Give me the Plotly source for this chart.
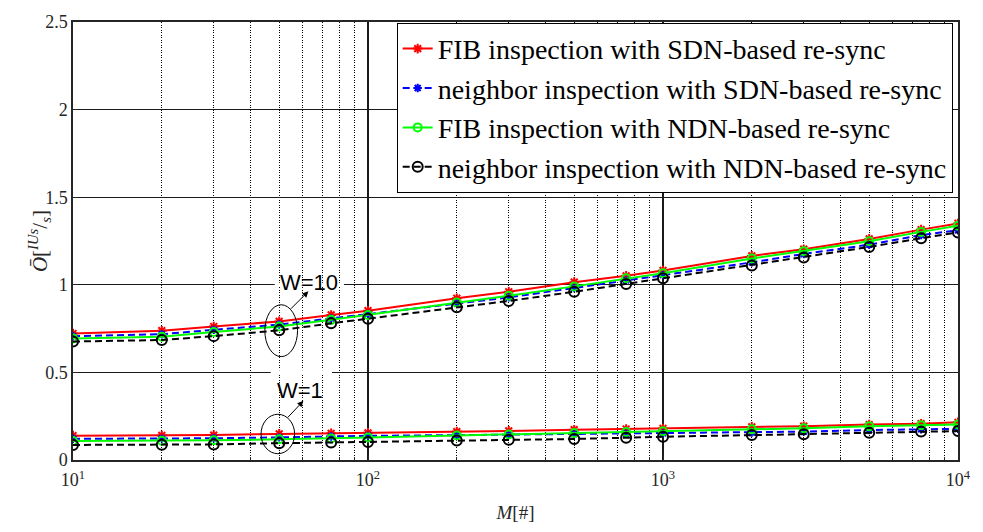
import plotly.graph_objects as go

# Number of managed entries M
M = [10, 20, 30, 50, 75, 100, 200, 300, 500, 750, 1000, 2000, 3000, 5000, 7500, 10000]

# Overhead for window W=10
fib_sdn_w10 = [0.722, 0.738, 0.762, 0.791, 0.828, 0.852, 0.923, 0.960, 1.015, 1.051, 1.082, 1.165, 1.203, 1.262, 1.315, 1.350]
nbr_sdn_w10 = [0.707, 0.718, 0.743, 0.773, 0.808, 0.834, 0.893, 0.928, 0.982, 1.025, 1.055, 1.128, 1.176, 1.229, 1.284, 1.311]
fib_ndn_w10 = [0.694, 0.703, 0.731, 0.762, 0.800, 0.828, 0.899, 0.938, 0.991, 1.037, 1.066, 1.150, 1.192, 1.249, 1.302, 1.337]
nbr_ndn_w10 = [0.676, 0.685, 0.707, 0.740, 0.780, 0.806, 0.872, 0.908, 0.960, 1.005, 1.037, 1.110, 1.156, 1.216, 1.266, 1.299]

# Overhead for window W=1
fib_sdn_w1 = [0.139, 0.140, 0.142, 0.149, 0.152, 0.155, 0.162, 0.166, 0.173, 0.177, 0.180, 0.189, 0.193, 0.202, 0.207, 0.215]
nbr_sdn_w1 = [0.121, 0.122, 0.124, 0.129, 0.134, 0.138, 0.142, 0.145, 0.148, 0.150, 0.152, 0.157, 0.162, 0.171, 0.175, 0.178]
fib_ndn_w1 = [0.108, 0.110, 0.113, 0.118, 0.123, 0.128, 0.140, 0.146, 0.154, 0.160, 0.164, 0.175, 0.181, 0.192, 0.198, 0.203]
nbr_ndn_w1 = [0.086, 0.087, 0.089, 0.096, 0.100, 0.103, 0.111, 0.116, 0.120, 0.127, 0.133, 0.142, 0.147, 0.156, 0.162, 0.165]

series_names = [
    "FIB inspection with SDN-based re-sync",
    "neighbor inspection with SDN-based re-sync",
    "FIB inspection with NDN-based re-sync",
    "neighbor inspection with NDN-based re-sync",
]

x_tick_vals = [10, 100, 1000, 10000]
x_tick_text = ["10<sup>1</sup>", "10<sup>2</sup>", "10<sup>3</sup>", "10<sup>4</sup>"]
x_minor_vals = [m * d for d in (10, 100, 1000) for m in range(2, 10)]
y_tick_vals = [0, 0.5, 1, 1.5, 2, 2.5]
y_tick_text = ["0", "0.5", "1", "1.5", "2", "2.5"]

styles = [
    dict(color="#ff0000", dash="solid", symbol="asterisk-open", size=8),
    dict(color="#0000ff", dash="7px,4px", symbol="asterisk-open", size=7),
    dict(color="#00ff00", dash="solid", symbol="circle-open", size=8),
    dict(color="#000000", dash="7px,4px", symbol="circle-open", size=10),
]

w10 = [fib_sdn_w10, nbr_sdn_w10, fib_ndn_w10, nbr_ndn_w10]
w1 = [fib_sdn_w1, nbr_sdn_w1, fib_ndn_w1, nbr_ndn_w1]

fig = go.Figure()
for name, st, y10, y1 in zip(series_names, styles, w10, w1):
    for k, yv in enumerate((y10, y1)):
        fig.add_trace(go.Scatter(
            x=M, y=yv, mode="lines+markers", name=name,
            legendgroup=name, showlegend=(k == 0),
            line=dict(color=st["color"], width=2, dash=st["dash"]),
            marker=dict(symbol=st["symbol"], size=st["size"],
                        color=st["color"], line=dict(color=st["color"], width=2)),
        ))

serif = "Liberation Serif, Times New Roman, serif"
axis_col = "#262626"

fig.update_layout(
    width=983, height=532,
    margin=dict(l=73, r=15, t=13, b=64),
    paper_bgcolor="white", plot_bgcolor="white",
    showlegend=True,
    legend=dict(
        x=0.994, xanchor="right", y=0.998, yanchor="top",
        bgcolor="white", bordercolor="#000000", borderwidth=1,
        font=dict(family=serif, size=28, color="black"),
        itemwidth=30, tracegroupgap=0,
    ),
    xaxis=dict(
        type="log", range=[1, 4],
        tickvals=x_tick_vals, ticktext=x_tick_text,
        tickfont=dict(family=serif, size=18, color=axis_col),
        ticklabelstandoff=3,
        showline=True, mirror=True, linecolor=axis_col, linewidth=1.5,
        ticks="inside", ticklen=5, tickcolor=axis_col,
        showgrid=True, gridcolor="#1a1a1a", gridwidth=1.5,
        minor=dict(tickvals=x_minor_vals, showgrid=True, gridcolor="#000000",
                   griddash="1px,1.5px", gridwidth=1, ticks="inside", ticklen=3,
                   tickcolor=axis_col),
        zeroline=False,
        title=dict(text="<i>M</i>[#]", font=dict(family=serif, size=19, color=axis_col),
                   standoff=16),
    ),
    yaxis=dict(
        range=[0, 2.5],
        tickvals=y_tick_vals, ticktext=y_tick_text,
        tickfont=dict(family=serif, size=18, color=axis_col),
        showline=True, mirror=True, linecolor=axis_col, linewidth=1.5,
        ticks="inside", ticklen=5, tickcolor=axis_col,
        showgrid=True, gridcolor="#1a1a1a", gridwidth=1,
        zeroline=False,
    ),
)

# y-axis label, placed just left of the tick labels
fig.add_annotation(xref="paper", yref="paper", x=-0.057, y=0.5,
                   text="<i>Ō</i>[<sup><i>IUs</i></sup>/<sub><i>s</i></sub>]",
                   textangle=-90, showarrow=False,
                   font=dict(family=serif, size=21, color=axis_col))

# white breaks in the horizontal grid lines behind the W labels
fig.add_shape(type="rect", xref="x", yref="y", x0=48.3, x1=82.9, y0=0.988, y1=1.012,
              fillcolor="white", line=dict(width=0), layer="between")
fig.add_shape(type="rect", xref="x", yref="y", x0=46.8, x1=75.5, y0=0.488, y1=0.512,
              fillcolor="white", line=dict(width=0), layer="between")

# ellipses grouping the curves at M=50
fig.add_shape(type="circle", xref="x", yref="y", x0=44.7, x1=57.7, y0=0.590, y1=0.886,
              line=dict(color="black", width=1), layer="above")
fig.add_shape(type="circle", xref="x", yref="y", x0=43.4, x1=56.4, y0=0.036, y1=0.261,
              line=dict(color="black", width=1), layer="above")

label_font = dict(family="Liberation Sans, Arial, sans-serif", size=22, color="black")
# arrows (annotation x positions are log10 on a log axis)
fig.add_annotation(x=1.798, y=0.963, xref="x", yref="y", text="", showarrow=True,
                   ax=-19, ay=19, arrowhead=2, arrowsize=1.2, arrowwidth=1,
                   arrowcolor="black")
fig.add_annotation(x=1.781, y=0.3375, xref="x", yref="y", text="", showarrow=True,
                   ax=-17, ay=18, arrowhead=2, arrowsize=1.2, arrowwidth=1,
                   arrowcolor="black")
fig.add_annotation(x=1.801, y=1.0126, xref="x", yref="y", text="W=10",
                   showarrow=False, font=label_font)
fig.add_annotation(x=1.768, y=0.398, xref="x", yref="y", text="W=1",
                   showarrow=False, font=label_font)

fig.write_html("out.html")
